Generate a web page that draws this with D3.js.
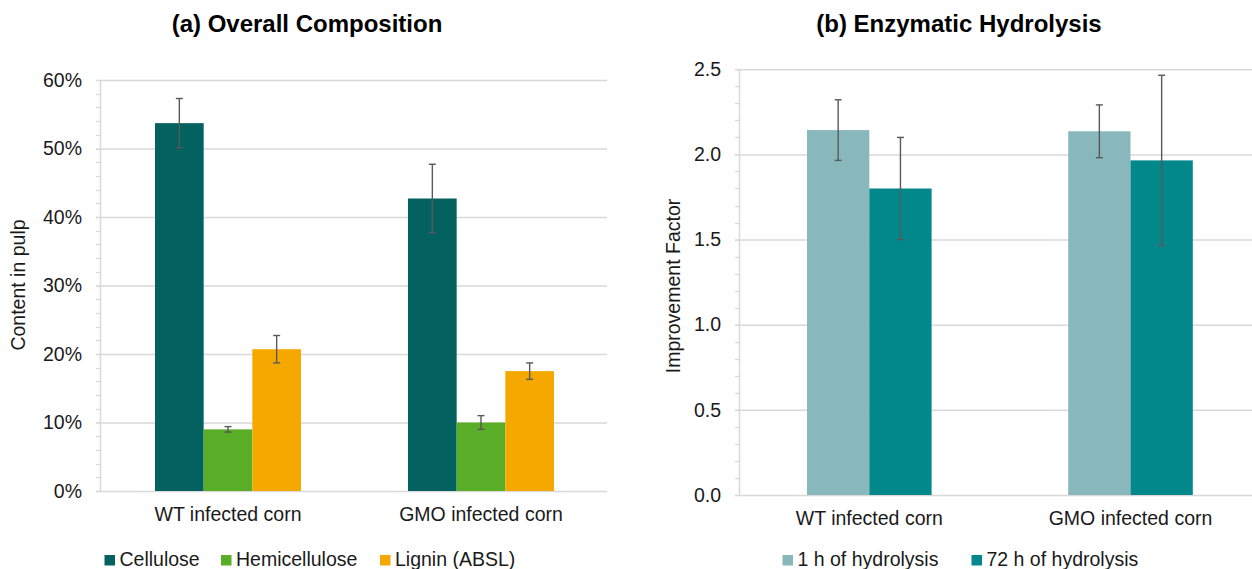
<!DOCTYPE html>
<html>
<head>
<meta charset="utf-8">
<script src="https://cdn.jsdelivr.net/npm/d3@7"></script>
<style>
  html, body { margin: 0; padding: 0; background: #fff; }
  svg { display: block; font-family: "Liberation Sans", Arial, sans-serif; }
</style>
</head>
<body>
<svg id="chart" width="1252" height="569"></svg>
<script>
// ---- Panel (a): pulp composition ----
const compCategories = ["WT infected corn", "GMO infected corn"];
const compSeries = ["Cellulose", "Hemicellulose", "Lignin (ABSL)"];
const celluloseValues = [0.537, 0.427];
const celluloseErrors = [0.036, 0.050];
const hemicelluloseValues = [0.090, 0.100];
const hemicelluloseErrors = [0.004, 0.010];
const ligninValues = [0.207, 0.175];
const ligninErrors = [0.020, 0.012];
const compTicks = [0, 0.1, 0.2, 0.3, 0.4, 0.5, 0.6];

// ---- Panel (b): enzymatic hydrolysis ----
const hydroCategories = ["WT infected corn", "GMO infected corn"];
const hydroSeries = ["1 h of hydrolysis", "72 h of hydrolysis"];
const oneHourValues = [2.143, 2.136];
const oneHourErrors = [0.178, 0.155];
const seventyTwoHourValues = [1.800, 1.965];
const seventyTwoHourErrors = [0.300, 0.500];
const hydroTicks = [0, 0.5, 1.0, 1.5, 2.0, 2.5];

const compColors = ["#03615F", "#5AAD26", "#F5A900"];
const hydroColors = ["#88B8BC", "#02878B"];

const svg = d3.select("#chart");
const FONT = 19.5;
const GRID = "#d9d9d9";
const ERR = "#595959";

function drawPanel(cfg) {
  const g = svg.append("g");
  const y = d3.scaleLinear().domain(cfg.yDomain).range([cfg.y0, cfg.y1]);
  const x0 = d3.scaleBand().domain(cfg.categories).range(cfg.xRange);
  const groupW = x0.bandwidth() * cfg.groupFrac;
  const x1 = d3.scaleBand().domain(cfg.series.map((d, i) => i))
    .range([-groupW / 2, groupW / 2]);

  // minor ticks on the value axis
  const minor = d3.range(cfg.yDomain[0], cfg.yDomain[1] + 1e-9, cfg.minorStep);
  g.append("g").selectAll("line").data(minor).join("line")
    .attr("x1", cfg.axisX - 4).attr("x2", cfg.axisX)
    .attr("y1", d => Math.round(y(d)) + 0.5).attr("y2", d => Math.round(y(d)) + 0.5)
    .attr("stroke", GRID).attr("stroke-width", 1.3);

  // gridlines + tick labels via d3 axis
  const axis = d3.axisLeft(y).tickValues(cfg.ticks).tickFormat(cfg.format)
    .tickSize(-(cfg.gridEnd - cfg.axisX)).tickPadding(18);
  const ag = g.append("g").attr("transform", `translate(${cfg.axisX},0)`).call(axis);
  ag.select(".domain").remove();
  ag.selectAll(".tick line").attr("stroke", GRID).attr("stroke-width", 1.5)
    .attr("x1", -4);
  ag.selectAll(".tick text").attr("font-size", FONT).attr("fill", "#1a1a1a")
    .attr("font-family", "'Liberation Sans', Arial, sans-serif");

  // vertical axis line
  g.append("line").attr("x1", cfg.axisX + 0.5).attr("x2", cfg.axisX + 0.5)
    .attr("y1", y(cfg.yDomain[1])).attr("y2", y(0))
    .attr("stroke", GRID).attr("stroke-width", 1.5);

  // bars
  cfg.series.forEach((s, si) => {
    g.append("g").selectAll("rect").data(cfg.values[si]).join("rect")
      .attr("x", (d, i) => x0(cfg.categories[i]) + x0.bandwidth() / 2 + x1(si))
      .attr("width", x1.bandwidth())
      .attr("y", d => y(d))
      .attr("height", d => y(0) - y(d))
      .attr("fill", cfg.colors[si]);
  });

  // error bars
  cfg.series.forEach((s, si) => {
    const eg = g.append("g").attr("stroke", ERR).attr("stroke-width", 1.4);
    cfg.values[si].forEach((v, i) => {
      const cx = x0(cfg.categories[i]) + x0.bandwidth() / 2 + x1(si) + x1.bandwidth() / 2;
      const e = cfg.errors[si][i];
      eg.append("line").attr("x1", cx).attr("x2", cx).attr("y1", y(v + e)).attr("y2", y(v - e));
      eg.append("line").attr("x1", cx - 3.5).attr("x2", cx + 3.5).attr("y1", y(v + e)).attr("y2", y(v + e));
      eg.append("line").attr("x1", cx - 3.5).attr("x2", cx + 3.5).attr("y1", y(v - e)).attr("y2", y(v - e));
    });
  });

  // category labels
  g.append("g").selectAll("text").data(cfg.categories).join("text")
    .attr("x", d => x0(d) + x0.bandwidth() / 2)
    .attr("y", cfg.catY)
    .attr("text-anchor", "middle").attr("font-size", FONT).attr("fill", "#1a1a1a")
    .text(d => d);

  // title
  g.append("text").attr("x", cfg.titleX).attr("y", 32)
    .attr("text-anchor", "middle").attr("font-size", 24).attr("font-weight", "bold")
    .attr("fill", "#000").text(cfg.title);

  // axis title
  g.append("text")
    .attr("transform", `translate(${cfg.yTitleX},${cfg.yTitleY}) rotate(-90)`)
    .attr("text-anchor", "middle").attr("font-size", FONT).attr("fill", "#1a1a1a")
    .text(cfg.yTitle);

  // legend
  const lg = g.append("g");
  cfg.series.forEach((s, si) => {
    const lx = cfg.legendX[si];
    lg.append("rect").attr("x", lx).attr("y", 555).attr("width", 10.5).attr("height", 10.5)
      .attr("fill", cfg.colors[si]);
    lg.append("text").attr("x", lx + 15).attr("y", 566).attr("font-size", FONT)
      .attr("fill", "#1a1a1a").text(s);
  });
}

drawPanel({
  categories: compCategories,
  series: compSeries,
  values: [celluloseValues, hemicelluloseValues, ligninValues],
  errors: [celluloseErrors, hemicelluloseErrors, ligninErrors],
  colors: compColors,
  yDomain: [0, 0.6], y0: 491, y1: 80,
  ticks: compTicks, minorStep: 0.02,
  format: d3.format(".0%"),
  axisX: 100, gridEnd: 607,
  xRange: [101.5, 607.5], groupFrac: 0.577,
  catY: 521,
  title: "(a) Overall Composition", titleX: 307,
  yTitle: "Content in pulp", yTitleX: 25, yTitleY: 285,
  legendX: [104.5, 221, 380]
});

drawPanel({
  categories: hydroCategories,
  series: hydroSeries,
  values: [oneHourValues, seventyTwoHourValues],
  errors: [oneHourErrors, seventyTwoHourErrors],
  colors: hydroColors,
  yDomain: [0, 2.5], y0: 495, y1: 69.3,
  ticks: hydroTicks, minorStep: 0.1,
  format: d3.format(".1f"),
  axisX: 739, gridEnd: 1252,
  xRange: [738.7, 1261.1], groupFrac: 0.477,
  catY: 525,
  title: "(b) Enzymatic Hydrolysis", titleX: 959,
  yTitle: "Improvement Factor", yTitleX: 680, yTitleY: 286,
  legendX: [782.5, 971.5]
});
</script>
</body>
</html>
